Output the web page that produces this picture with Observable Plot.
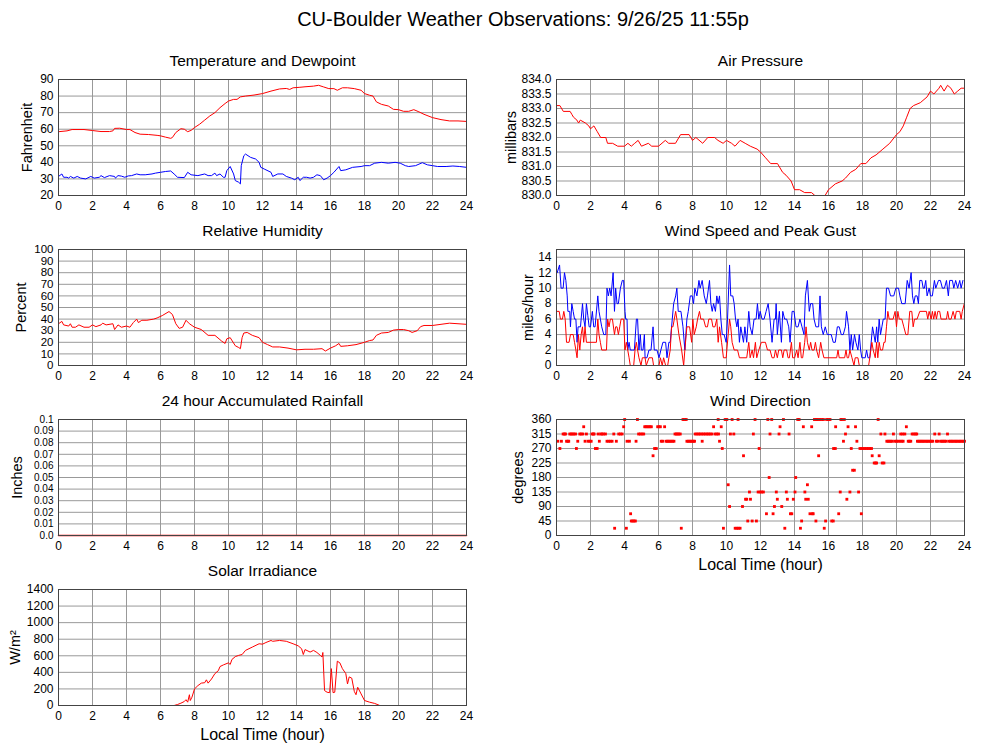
<!DOCTYPE html>
<html><head><meta charset="utf-8">
<script src="https://cdn.jsdelivr.net/npm/d3@7"></script>
<script src="https://cdn.jsdelivr.net/npm/@observablehq/plot@0.6"></script>
<style>
body{margin:0;background:#fff;overflow:hidden;font-family:"Liberation Sans",Arial,Helvetica,sans-serif;}
#wrap{position:relative;width:1000px;height:745px;}
.panel{position:absolute;}
#title{position:absolute;top:8px;left:523px;transform:translateX(-50%);font-size:20px;white-space:nowrap;color:#000;}
</style></head><body><div id="wrap"><div id="title">CU-Boulder Weather Observations: 9/26/25 11:55p</div></div>
<script>
// ---------- data (hour, value) ----------
const hourTicks = [0,2,4,6,8,10,12,14,16,18,20,22,24];

const temperature = [[0,58.5],[0.5,59],[0.8,59.8],[1.5,59.8],[2,59.2],[2.5,58.6],[3.0,58.6],[3.2,59],[3.3,60.5],[3.6,60.6],[4.0,59.8],[4.2,59.8],[4.5,58],[4.8,57],[5.3,56.8],[5.8,56.3],[6.0,56],[6.3,55.2],[6.6,54.5],[6.7,55],[6.9,58],[7.2,60.3],[7.4,60],[7.6,58.5],[7.8,59.3],[8.0,61],[8.3,63],[8.6,65.5],[8.9,68],[9.2,70],[9.5,73],[9.8,75.5],[10.0,77],[10.3,78],[10.5,78],[10.7,79.5],[11.0,80],[11.5,80.6],[12,81.5],[12.5,83],[13,84.3],[13.4,84.6],[13.6,84],[13.8,85],[14.2,85.3],[14.5,85.6],[15,86],[15.3,86.5],[15.6,85.5],[15.9,84.5],[16.2,84.5],[16.4,83.5],[16.7,85],[17,85],[17.4,84.5],[17.8,83.5],[18,81.5],[18.3,80.5],[18.5,80],[18.7,76.5],[19,75],[19.4,74],[19.7,72],[20,71.8],[20.3,70.8],[20.6,70.8],[20.9,71.8],[21.2,70.5],[21.5,69],[22,67],[22.5,65.8],[23,65],[23.5,65],[24,64.7]];

const dewpoint = [[0,31.5],[0.2,33],[0.3,31],[0.5,31],[0.6,30.5],[0.7,31.5],[0.9,30.5],[1.1,31.5],[1.3,30.5],[1.6,30],[1.9,31.5],[2.1,30.5],[2.4,31],[2.5,32],[2.7,30.8],[3.0,32],[3.3,31.5],[3.35,30.5],[3.5,32],[3.7,31.7],[3.9,31],[4.1,31.8],[4.3,32],[4.6,33],[4.8,32.5],[5.1,32.5],[5.5,33],[5.7,33.5],[6.0,34],[6.3,34.5],[6.6,34.8],[6.8,33],[7.0,31],[7.4,30.8],[7.6,34],[7.8,32.5],[8.2,32],[8.6,33],[8.8,32],[9.0,32],[9.2,33.5],[9.3,32],[9.5,33],[9.7,31],[9.8,31],[9.9,35],[10.1,37.5],[10.3,33],[10.4,29],[10.6,28],[10.7,27],[10.75,38],[10.9,44],[11.0,45],[11.3,43],[11.6,42],[11.8,40],[11.9,37],[12.1,36],[12.5,34],[12.6,31.5],[12.9,33],[13.2,33],[13.4,31.5],[13.7,30.5],[13.9,29.5],[14.1,31],[14.2,29],[14.4,31],[14.6,31],[14.8,30.5],[15.0,31],[15.2,32.5],[15.4,32],[15.6,29.5],[15.8,30.5],[16.0,32],[16.2,34],[16.5,37.5],[16.6,35],[16.9,35.5],[17.3,37],[17.8,37.5],[18,38],[18.3,38],[18.6,39.5],[19,40],[19.4,39.5],[19.8,40],[20.1,39.5],[20.4,38],[20.6,37.5],[21,38],[21.4,39.8],[21.7,38.5],[22,38],[22.3,37.5],[22.8,37.5],[23.2,37.8],[23.6,37.5],[24,37]];

const pressure = [[0,833.1],[0.2,833.1],[0.4,832.9],[0.8,832.9],[0.9,832.8],[1.0,832.7],[1.2,832.6],[1.3,832.5],[1.4,832.6],[1.7,832.5],[1.9,832.4],[2.0,832.3],[2.2,832.4],[2.4,832.2],[2.6,832.0],[2.9,832.0],[3.0,831.8],[3.3,831.8],[3.6,831.7],[4.0,831.7],[4.2,831.8],[4.4,831.7],[4.6,831.8],[4.8,831.9],[5.0,831.7],[5.4,831.8],[5.6,831.7],[6.0,831.7],[6.4,831.9],[6.6,831.8],[7.0,831.8],[7.3,832.1],[7.8,832.1],[8.0,831.9],[8.2,832.0],[8.6,831.8],[8.9,832.0],[9.3,832.0],[9.5,831.9],[9.8,831.8],[10.0,831.9],[10.3,831.8],[10.5,831.7],[10.8,831.9],[11.1,831.8],[11.4,831.7],[11.8,831.6],[12.0,831.5],[12.3,831.3],[12.6,831.1],[13.0,831.1],[13.3,830.8],[13.5,830.7],[13.8,830.5],[14.0,830.2],[14.3,830.2],[14.6,830.1],[15.0,830.1],[15.2,830.0],[15.5,830.0],[15.8,830.0],[16.0,830.2],[16.4,830.4],[16.8,830.5],[17.0,830.6],[17.3,830.8],[17.6,830.9],[17.9,831.1],[18.2,831.1],[18.5,831.3],[18.8,831.4],[19.2,831.6],[19.6,831.8],[20.0,832.1],[20.2,832.2],[20.4,832.4],[20.6,832.7],[20.8,833.0],[21.0,833.1],[21.4,833.2],[21.8,833.4],[22.0,833.6],[22.2,833.5],[22.5,833.7],[22.6,833.8],[22.8,833.6],[23.0,833.8],[23.2,833.7],[23.4,833.5],[23.6,833.6],[23.8,833.7],[24,833.7]];

const humidity = [[0,36],[0.2,38],[0.3,35],[0.6,34],[0.7,36],[0.8,33],[1.0,33],[1.2,35],[1.5,33],[1.8,33],[2.0,35],[2.2,33.5],[2.5,35],[2.6,36.5],[2.8,35],[3.2,36],[3.3,31],[3.5,35],[3.7,33],[4.0,34],[4.2,33],[4.4,37],[4.6,40],[4.7,37],[4.9,39],[5.2,39],[5.6,40],[5.8,41],[6.1,43],[6.5,46.5],[6.7,44],[6.9,36],[7.1,32],[7.3,33],[7.5,39],[7.7,36],[8.0,33],[8.4,31],[8.8,26],[9.2,26],[9.6,21],[9.8,19],[9.9,23],[10.1,24],[10.4,17],[10.6,15.5],[10.7,14.5],[10.8,24],[10.9,28],[11.1,28.5],[11.4,26],[11.8,24],[12.0,20],[12.3,18],[12.6,16],[13.0,16],[13.5,15],[14.0,13.5],[14.5,14],[15.0,14],[15.5,14.5],[15.7,12.5],[16.0,15],[16.3,17],[16.5,19],[16.6,16.5],[17.0,17],[17.5,18],[18.0,20],[18.3,21.5],[18.5,22],[18.7,26],[19.0,28],[19.4,28.5],[19.7,30.5],[20.0,31],[20.3,31],[20.6,30],[20.8,28.5],[21.1,30],[21.3,33.5],[21.5,34.5],[22.0,34.5],[22.5,35.5],[23.0,36.5],[23.5,36],[24.0,35.5]];

const windGust = [[0.04,12],[0.18,13],[0.27,10],[0.39,10],[0.47,12],[0.55,11],[0.63,9],[0.67,7],[0.78,7],[0.82,5],[0.90,8],[0.98,7],[1.06,6],[1.14,6],[1.21,3],[1.27,5],[1.41,5],[1.53,8],[1.60,6],[1.68,5],[1.76,8],[1.84,6.5],[1.92,5],[2.00,5],[2.11,7],[2.19,5],[2.27,5],[2.43,9],[2.50,7],[2.58,6],[2.66,5],[2.78,4],[2.90,4],[2.97,10],[3.05,9],[3.13,10],[3.21,9],[3.33,12],[3.41,7],[3.48,10],[3.56,8],[3.64,8],[3.76,10],[3.87,11],[3.95,11],[4.03,7],[4.07,6],[4.15,6],[4.19,2],[4.27,3],[4.34,2],[4.46,2],[4.58,2],[4.70,6],[4.77,6],[4.85,2],[4.93,4],[4.99,2],[5.09,2],[5.17,4],[5.21,1],[5.32,1],[5.44,2],[5.56,2],[5.68,5],[5.75,2],[5.91,2],[6.03,1],[6.14,2],[6.26,3],[6.42,3],[6.50,1],[6.61,3],[6.69,3],[6.81,6],[6.89,8],[7.01,9],[7.08,10],[7.16,7],[7.32,7],[7.44,5],[7.55,2],[7.67,6],[7.75,7],[7.87,9],[7.98,9],[8.06,8],[8.14,10],[8.26,9],[8.38,11],[8.45,10],[8.57,11],[8.69,9],[8.81,8],[8.88,9],[9.00,11],[9.08,8],[9.16,7],[9.24,8],[9.35,7],[9.43,9],[9.51,8],[9.59,9],[9.67,6],[9.75,4],[9.86,4],[9.98,3],[10.06,6],[10.18,13],[10.25,9],[10.37,9],[10.45,8],[10.53,6],[10.61,5],[10.68,6],[10.76,3],[10.84,5],[10.92,4],[11.00,3],[11.08,5],[11.19,3],[11.31,7],[11.39,5],[11.51,4],[11.62,6],[11.74,6],[11.82,8],[11.90,6],[11.98,7],[12.09,6],[12.21,6],[12.33,7],[12.45,8],[12.56,6],[12.68,3],[12.80,6],[12.88,6],[12.92,8],[12.99,4],[13.11,7],[13.23,3],[13.31,7],[13.42,6],[13.54,6],[13.66,5],[13.74,3],[13.86,7],[13.97,7],[14.09,5],[14.21,5],[14.32,6],[14.44,5],[14.56,4],[14.64,9],[14.76,11],[14.87,7],[14.95,8],[15.07,8],[15.15,6],[15.26,5],[15.42,5],[15.50,9],[15.58,5],[15.69,4],[15.81,5],[15.93,4],[16.05,4],[16.16,4],[16.28,3],[16.40,3],[16.52,5],[16.63,5],[16.75,4],[16.87,4],[16.99,5],[17.06,7],[17.18,5],[17.26,2],[17.34,4],[17.42,2],[17.53,4],[17.61,3],[17.73,2],[17.81,4],[17.89,2],[17.96,1],[18.16,1],[18.24,2],[18.32,1],[18.43,1],[18.51,3],[18.59,5],[18.67,4],[18.75,3],[18.83,5],[18.90,3],[18.98,6],[19.06,4],[19.14,5],[19.22,6],[19.33,6],[19.41,10],[19.53,10],[19.65,9],[19.84,9],[19.96,10],[20.12,10],[20.20,9],[20.31,8],[20.51,8],[20.63,11],[20.74,10],[20.86,12],[20.94,9],[21.02,8],[21.10,9],[21.21,9],[21.29,8],[21.37,11],[21.49,11],[21.57,10],[21.64,10],[21.72,11],[21.80,9],[21.92,10],[22.00,9],[22.11,9],[22.23,11],[22.31,10],[22.47,11],[22.58,11],[22.70,10],[22.82,10],[22.94,11],[23.05,9],[23.13,11],[23.29,11],[23.37,10],[23.48,11],[23.60,10],[23.72,11],[23.80,10],[23.91,11]];

const windSpeed = [[0.04,7],[0.16,7],[0.23,6],[0.35,6],[0.43,7],[0.51,6],[0.59,3],[0.74,3],[0.82,4],[0.98,4],[1.06,3],[1.14,2],[1.21,1],[1.29,4],[1.37,2],[1.45,4],[1.53,5],[1.60,3],[1.68,5],[1.76,3],[2.35,3],[2.43,6],[2.50,4],[2.58,3],[2.66,2],[2.94,2],[3.01,6],[3.09,5],[3.17,6],[3.29,6],[3.41,4],[3.48,5],[3.56,5],[3.64,4],[3.72,5],[3.80,6],[3.95,6],[4.03,2],[4.11,3],[4.19,2],[4.27,1],[4.34,0],[4.54,0],[4.62,2],[4.70,3],[4.77,2],[4.85,1],[4.97,0],[5.05,1],[5.21,1],[5.28,0],[5.44,1],[5.64,1],[5.71,0],[6.03,0],[6.11,1],[6.22,0],[6.30,1],[6.42,0],[6.54,0],[6.61,1],[6.69,2],[6.77,5],[6.85,5],[6.93,6],[7.01,7],[7.08,6],[7.20,4],[7.36,2],[7.48,0],[7.55,2],[7.67,5],[7.83,5],[7.95,3],[8.02,6],[8.10,4],[8.22,5],[8.30,6],[8.41,7],[8.49,6],[8.65,6],[8.77,5],[8.88,5],[8.96,6],[9.12,6],[9.20,5],[9.32,5],[9.43,6],[9.51,3],[9.59,5],[9.71,3],[9.82,1],[9.98,1],[10.10,4],[10.18,6],[10.25,5],[10.33,3],[10.45,2],[10.65,2],[10.76,1],[11.19,1],[11.31,3],[11.39,1],[11.51,2],[11.59,1],[11.70,3],[11.78,1],[11.90,2],[12.05,3],[12.29,3],[12.41,2],[12.56,2],[12.68,1],[12.80,1],[12.88,2],[12.99,1],[13.07,2],[13.23,2],[13.31,1],[13.39,2],[13.54,2],[13.62,1],[13.70,1],[13.82,3],[13.89,1],[14.01,1],[14.13,2],[14.21,1],[14.32,3],[14.40,1],[14.48,1],[14.60,3],[14.68,5],[14.76,3],[14.87,2],[14.95,3],[15.03,2],[15.15,2],[15.23,3],[15.30,2],[15.42,1],[15.54,3],[15.62,2],[15.73,1],[16.48,1],[16.56,2],[16.63,1],[16.95,1],[17.03,2],[17.10,1],[17.18,1],[17.26,2],[17.38,1],[17.50,0],[17.57,1],[17.73,1],[17.81,0],[18.36,0],[18.43,1],[18.55,3],[18.63,2],[18.75,1],[18.83,3],[18.90,1],[18.98,3],[19.06,2],[19.18,2],[19.26,3],[19.33,3],[19.41,5],[19.49,7],[19.57,6],[19.80,6],[19.92,7],[20.00,5],[20.08,7],[20.16,6],[20.31,6],[20.43,5],[20.55,4],[20.67,4],[20.78,7],[20.90,7],[20.98,5],[21.06,6],[21.21,6],[21.37,7],[21.76,7],[21.84,6],[21.92,7],[22.04,6],[22.11,7],[22.19,6],[22.27,7],[22.35,6],[22.43,7],[22.54,7],[22.62,6],[22.94,6],[23.01,7],[23.09,6],[23.21,6],[23.33,7],[23.44,6],[23.52,7],[23.72,7],[23.80,6],[23.87,7],[23.99,8]];

const rainfall = [[0,0],[6,0],[12,0],[18,0],[24,0]];

const windDirection = [
  [360,[4.01,4.76,7.44,7.53,7.63,9.51,9.92,10.02,10.33,10.68,11.68,12.43,12.66,13.35,14.19,14.27,15.17,15.25,15.32,15.40,15.50,15.60,15.70,15.89,15.99,16.09,16.73,16.78,16.93,18.92]],
  [337.5,[1.60,3.95,5.19,5.26,5.34,5.42,5.50,5.58,5.95,6.03,6.11,6.36,9.24,9.69,13.15,14.52,15.01,16.42,17.15,17.59,20.58]],
  [315,[0.39,0.47,0.53,0.78,0.86,0.94,1.02,1.12,1.37,1.45,1.55,1.76,2.09,2.17,2.21,2.45,2.60,2.68,2.76,2.88,3.37,3.66,3.76,3.86,4.83,4.93,5.03,5.13,6.97,7.05,7.12,7.20,7.28,8.16,8.26,8.36,8.45,8.55,8.65,8.75,8.85,8.94,9.04,9.14,9.33,9.43,9.53,10.23,10.43,11.58,12.56,13.09,13.68,17.00,19.08,19.32,19.82,20.25,20.37,20.49,20.92,21.02,21.12,21.19,22.25,22.51,23.00]],
  [292.5,[0.08,0.29,0.59,0.67,0.72,1.25,1.68,1.86,1.96,2.04,2.52,2.97,3.07,3.17,3.27,3.52,4.15,4.29,4.68,6.16,6.24,6.44,6.52,6.59,6.67,6.75,6.83,6.91,7.67,7.75,7.83,7.91,7.98,8.06,8.12,8.57,9.59,16.88,17.67,19.43,19.51,19.59,19.67,19.75,19.90,20.00,20.10,20.21,20.31,20.39,20.69,20.76,20.84,21.23,21.31,21.39,21.47,21.55,21.63,21.72,21.80,21.88,21.97,22.05,22.13,22.34,22.42,22.59,22.67,22.75,22.83,22.92,23.08,23.17,23.25,23.33,23.42,23.50,23.58,23.67,23.75,23.83,23.92,24.0]],
  [270,[0.20,1.17,2.29,2.39,5.77,5.87,9.75,11.92,16.30,16.40,17.34,17.85,17.95,18.04,18.14,18.24,18.34,18.43,18.53]],
  [247.5,[5.68,11.00,15.42,18.57,18.98]],
  [225,[18.69,18.77,18.83,19.16,19.26]],
  [202.5,[17.42,17.52]],
  [180,[12.51,14.07]],
  [157.5,[10.10,14.76]],
  [135,[11.35,11.86,11.98,12.07,12.17,12.93,13.52,14.03,14.61,16.69,17.26,17.77]],
  [112.5,[11.12,11.19,11.41,12.99,13.58,13.93,14.66,14.81,17.08]],
  [90,[10.18,10.94,12.82,13.25]],
  [67.5,[4.36,12.35,12.74,13.76,13.84,14.91,15.05,15.10,16.60,17.93]],
  [45,[4.40,4.48,4.56,4.64,11.25,11.51,11.76,14.42,15.26,15.83,16.19,16.28]],
  [22.5,[3.42,4.11,7.34,9.82,10.51,10.61,10.70,10.80,13.43,14.35,15.75]]
];

const solar = [[0,0],[6.8,0],[7.0,12],[7.2,28],[7.4,48],[7.5,70],[7.6,40],[7.7,130],[7.75,60],[7.85,100],[8.0,200],[8.2,240],[8.4,270],[8.6,275],[8.7,310],[8.8,270],[9.0,320],[9.2,385],[9.4,420],[9.5,470],[9.7,490],[10.0,515],[10.1,495],[10.2,555],[10.4,590],[10.6,605],[10.8,615],[11.0,665],[11.4,705],[11.8,745],[12.0,740],[12.2,760],[12.5,785],[12.6,775],[13.0,785],[13.4,775],[13.8,745],[14.1,720],[14.3,685],[14.4,615],[14.5,675],[14.8,645],[15.0,665],[15.2,640],[15.4,605],[15.5,585],[15.55,640],[15.65,180],[15.8,160],[15.95,155],[16.05,445],[16.15,155],[16.25,160],[16.4,535],[16.55,515],[16.7,445],[16.9,385],[17.0,260],[17.1,345],[17.25,330],[17.4,170],[17.5,130],[17.6,220],[17.8,140],[18.0,60],[18.3,40],[18.6,25],[18.9,0],[24,0]];

const tempTicks = [20,30,40,50,60,70,80,90];
const pressureTicks = [830,830.5,831,831.5,832,832.5,833,833.5,834];
const humidityTicks = [0,10,20,30,40,50,60,70,80,90,100];
const windTicks = [0,2,4,6,8,10,12,14];
const rainTicks = [0,0.01,0.02,0.03,0.04,0.05,0.06,0.07,0.08,0.09,0.1];
const dirTicks = [0,45,90,135,180,225,270,315,360];
const solarTicks = [0,200,400,600,800,1000,1200,1400];

// ---------- drawing ----------
const RED = "#ff0000", BLUE = "#0000ff";
const wrap = document.getElementById("wrap");
const px = d => d[0], py = d => d[1];

function panel({left, top, title, ylabel, ylabelDx, xlabel, yDomain, yTicks, yFormat, yFont = 12, marks}) {
  const mt = 30, ph = 116, mb = xlabel ? 42 : 20;
  const chart = Plot.plot({
    width: 480, height: mt + ph + mb,
    marginLeft: 58, marginRight: 14, marginTop: mt, marginBottom: mb,
    style: {fontFamily: "'Liberation Sans', Arial, sans-serif", fontSize: "12px", color: "#000", background: "transparent", overflow: "visible"},
    x: {domain: [0, 24]},
    y: {domain: yDomain},
    marks: [
      Plot.gridX(hourTicks, {stroke: "#999", strokeOpacity: 1}),
      Plot.gridY(yTicks, {stroke: "#999", strokeOpacity: 1}),
      Plot.axisX(hourTicks, {tickSize: 0, tickPadding: 6, tickFormat: d => String(d), label: null, fontSize: 12}),
      Plot.axisY(yTicks, {tickSize: 0, tickPadding: 5, tickFormat: yFormat, label: null, fontSize: yFont}),
      ...marks,
      Plot.frame({stroke: "#444"}),
      Plot.text([title], {frameAnchor: "top", lineAnchor: "middle", textAnchor: "middle", dy: -18, fontSize: 15.5, text: d => d}),
      Plot.text([ylabel], {frameAnchor: "left", lineAnchor: "middle", textAnchor: "middle", dx: ylabelDx, rotate: -90, fontSize: 14.5, text: d => d}),
      xlabel ? Plot.text([xlabel], {frameAnchor: "bottom", lineAnchor: "middle", textAnchor: "middle", dy: 29, fontSize: 16, text: d => d}) : null
    ]
  });
  chart.classList.add("panel");
  chart.style.left = left + "px";
  chart.style.top = top + "px";
  wrap.appendChild(chart);
}

const L = 0, R = 498;

panel({left: L, top: 49, title: "Temperature and Dewpoint", ylabel: "Fahrenheit", ylabelDx: -31,
  yDomain: [20, 90], yTicks: tempTicks, yFormat: d => String(d),
  marks: [
    Plot.line(temperature, {x: px, y: py, stroke: RED, strokeWidth: 1}),
    Plot.line(dewpoint, {x: px, y: py, stroke: BLUE, strokeWidth: 1})
  ]});

panel({left: R, top: 49, title: "Air Pressure", ylabel: "millibars", ylabelDx: -45,
  yDomain: [830, 834], yTicks: pressureTicks, yFormat: d => d.toFixed(1),
  marks: [Plot.line(pressure, {x: px, y: py, stroke: RED, strokeWidth: 1})]});

panel({left: L, top: 219, title: "Relative Humidity", ylabel: "Percent", ylabelDx: -37,
  yDomain: [0, 100], yTicks: humidityTicks, yFormat: d => String(d), yFont: 11.5,
  marks: [Plot.line(humidity, {x: px, y: py, stroke: RED, strokeWidth: 1})]});

panel({left: R, top: 219, title: "Wind Speed and Peak Gust", ylabel: "miles/hour", ylabelDx: -28,
  yDomain: [0, 15], yTicks: windTicks, yFormat: d => String(d),
  marks: [
    Plot.line(windGust, {x: px, y: py, stroke: BLUE, strokeWidth: 1}),
    Plot.line(windSpeed, {x: px, y: py, stroke: RED, strokeWidth: 1})
  ]});

panel({left: L, top: 389, title: "24 hour Accumulated Rainfall", ylabel: "Inches", ylabelDx: -41,
  yDomain: [0, 0.1], yTicks: rainTicks, yFormat: d => d === 0 ? "0.0" : String(+d.toFixed(2)), yFont: 10,
  marks: [Plot.line(rainfall, {x: px, y: py, stroke: RED, strokeWidth: 1.5})]});

const dirPoints = windDirection.flatMap(([deg, hours]) => hours.map(h => [h, deg]));
panel({left: R, top: 389, title: "Wind Direction", ylabel: "degrees", ylabelDx: -38, xlabel: "Local Time (hour)",
  yDomain: [0, 360], yTicks: dirTicks, yFormat: d => String(d),
  marks: [Plot.dot(dirPoints, {x: px, y: py, fill: RED, stroke: "none", symbol: "square", r: 1.6})]});

panel({left: L, top: 559, title: "Solar Irradiance", ylabel: "W/m²", ylabelDx: -43, xlabel: "Local Time (hour)",
  yDomain: [0, 1400], yTicks: solarTicks, yFormat: d => String(d),
  marks: [Plot.line(solar, {x: px, y: py, stroke: RED, strokeWidth: 1})]});
</script>
</body></html>
